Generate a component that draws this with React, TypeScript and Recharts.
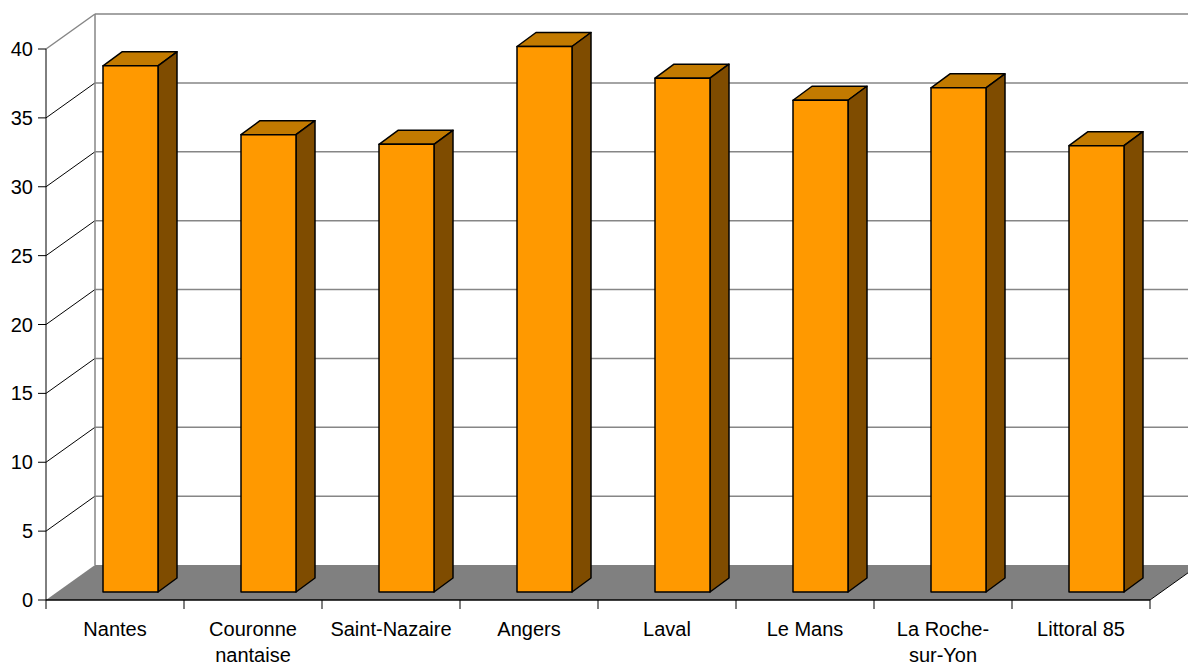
import React from 'react';
import { BarChart, Bar, XAxis, YAxis, CartesianGrid } from 'recharts';

const categories = [
  'Nantes',
  'Couronne\nnantaise',
  'Saint-Nazaire',
  'Angers',
  'Laval',
  'Le Mans',
  'La Roche-\nsur-Yon',
  'Littoral 85',
];
const values = [38.2, 33.2, 32.5, 39.6, 37.3, 35.7, 36.6, 32.4];
const yTicks = [0, 5, 10, 15, 20, 25, 30, 35, 40];

const data = categories.map((name, i) => ({ name, value: values[i] }));

const W = 1188;
const H = 666;
const FONT = '"Liberation Sans", Arial, sans-serif';
const GRID_GRAY = '#868686';

// oblique offset of the back wall / floor
const WALL_DX = 49;
const WALL_DY = -35;
// bar placement inside the floor, and bar depth
const BAR_DX = 15;
const BAR_DY = -8;
const DEPTH_DX = 19;
const DEPTH_DY = -14;

const margin = { top: 49, right: 38, left: 0, bottom: 6 };
const PLOT_LEFT = 46;
const PLOT_TOP = margin.top;
const PLOT_BOTTOM = H - margin.bottom - 60;
const PLOT_RIGHT = W - margin.right;

function GridLine(props: any) {
  const { x1, y1, x2 } = props;
  const top = typeof props.y === 'number' ? props.y : PLOT_TOP;
  const bottom =
    typeof props.y === 'number' && typeof props.height === 'number'
      ? props.y + props.height
      : PLOT_BOTTOM;
  const isBottom = Math.abs(y1 - bottom) < 0.5;
  const isTop = Math.abs(y1 - top) < 0.5;
  const bx = x1 + WALL_DX;
  const by = y1 + WALL_DY;

  if (isBottom) {
    return (
      <g>
        <polygon
          points={`${x1},${y1} ${x2},${y1} ${x2 + WALL_DX},${by} ${bx},${by}`}
          fill="#808080"
          stroke="none"
        />
        <line x1={x2} y1={y1} x2={x2 + WALL_DX} y2={by} stroke="#000" strokeWidth={1} />
      </g>
    );
  }
  return (
    <g>
      <line x1={bx} y1={by} x2={x2 + WALL_DX} y2={by} stroke={GRID_GRAY} strokeWidth={1.5} />
      <line
        x1={x1}
        y1={y1}
        x2={bx}
        y2={by}
        stroke={isTop ? GRID_GRAY : '#000'}
        strokeWidth={isTop ? 1.5 : 1}
      />
      {isTop && (
        <line x1={bx} y1={by} x2={bx} y2={bottom + WALL_DY} stroke={GRID_GRAY} strokeWidth={1.5} />
      )}
    </g>
  );
}

function Bar3D(props: any) {
  const { x, y, width, height } = props;
  if (!height) return null;
  const fx = x + BAR_DX;
  const fy = y + BAR_DY;
  const fr = fx + width;
  const fb = fy + height;
  return (
    <g stroke="#000" strokeWidth={1.5} strokeLinejoin="round">
      <polygon
        points={`${fx},${fy} ${fr},${fy} ${fr + DEPTH_DX},${fy + DEPTH_DY} ${fx + DEPTH_DX},${fy + DEPTH_DY}`}
        fill="#C27A00"
      />
      <polygon
        points={`${fr},${fy} ${fr + DEPTH_DX},${fy + DEPTH_DY} ${fr + DEPTH_DX},${fb + DEPTH_DY} ${fr},${fb}`}
        fill="#7F4C00"
      />
      <rect x={fx} y={fy} width={width} height={height} fill="#FF9900" />
    </g>
  );
}

function CategoryTick(props: any) {
  const { x, y, payload, index } = props;
  const lines = String(payload.value).split('\n');
  const band = (PLOT_RIGHT - PLOT_LEFT) / categories.length;
  return (
    <g>
      <line x1={x - band / 2} y1={y} x2={x - band / 2} y2={y + 9} stroke="#000" />
      {index === categories.length - 1 && (
        <line x1={x + band / 2} y1={y} x2={x + band / 2} y2={y + 9} stroke="#000" />
      )}
      <text x={x} y={y + 36} textAnchor="middle" fontSize={20} fill="#000" fontFamily={FONT}>
        {lines.map((line, i) => (
          <tspan key={i} x={x} dy={i === 0 ? 0 : 26}>
            {line}
          </tspan>
        ))}
      </text>
    </g>
  );
}

export default function App() {
  return (
    <div style={{ width: W, height: H, background: '#fff' }}>
      <style>{'body{margin:0}'}</style>
      <BarChart width={W} height={H} data={data} margin={margin}>
        <CartesianGrid horizontal={GridLine} vertical={false} />
        <XAxis
          dataKey="name"
          height={60}
          interval={0}
          tickLine={false}
          tickSize={0}
          tickMargin={0}
          axisLine={{ stroke: '#000', strokeWidth: 1.5 }}
          tick={<CategoryTick />}
        />
        <YAxis
          width={46}
          domain={[0, 40]}
          ticks={yTicks}
          interval={0}
          tickSize={8}
          tickMargin={5}
          axisLine={{ stroke: '#000', strokeWidth: 1 }}
          tickLine={{ stroke: '#000' }}
          tick={{ fontSize: 20, fill: '#000', fontFamily: FONT }}
        />
        <Bar dataKey="value" barSize={55} shape={<Bar3D />} isAnimationActive={false} />
      </BarChart>
    </div>
  );
}
